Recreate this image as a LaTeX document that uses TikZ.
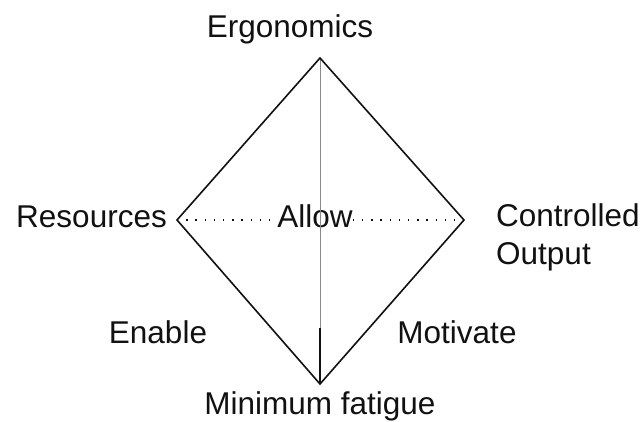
\documentclass[tikz,border=0pt]{standalone}
\usepackage{fontspec}
\setmainfont{Liberation Sans}
\usepackage{tikz}
\usetikzlibrary{positioning,calc}
\definecolor{ink}{HTML}{111111}
\definecolor{midline}{HTML}{8A8A8A}

\begin{document}
\begin{tikzpicture}[x=1pt,y=-1pt,font=\fontsize{31.5}{38}\selectfont,
    edge/.style={ink,line width=1.6pt,line join=miter},
    dots/.style={ink,line width=1.2pt,dash pattern=on 1.4pt off 7.8pt},
    lbl/.style={inner sep=0pt,text=ink,anchor=base}]
  \useasboundingbox (0,0) rectangle (643,422);
  % corners of the diamond
  \coordinate (top) at (320,58);
  \coordinate (left) at (177,220);
  \coordinate (right) at (464,220);
  \coordinate (bottom) at (320,384);
  \coordinate (split) at (320,328);
  % labels
  \node[lbl] (ergo) at (290,38) {Ergonomics};
  \node[lbl,anchor=base east] (res) at (167,228) {Resources};
  \node[lbl] (allow) at (315,228) {Allow};
  \node[lbl,anchor=base west,align=left] (out) at (496,265) {Controlled\\Output};
  \node[lbl] (enable) at (158,343) {Enable};
  \node[lbl] (motiv) at (457,343) {Motivate};
  \node[lbl] (minfat) at (320,414) {Minimum fatigue};
  % lines
  \draw[dots] (left) -- (allow.west |- left);
  \draw[dots] (allow.east |- right) -- (right);
  \draw[midline,line width=0.8pt] (top) -- (split);
  \draw[ink,line width=1.1pt] (split) -- (bottom);
  \draw[edge] (top) -- (right) -- (bottom) -- (left) -- cycle;
\end{tikzpicture}
\end{document}
